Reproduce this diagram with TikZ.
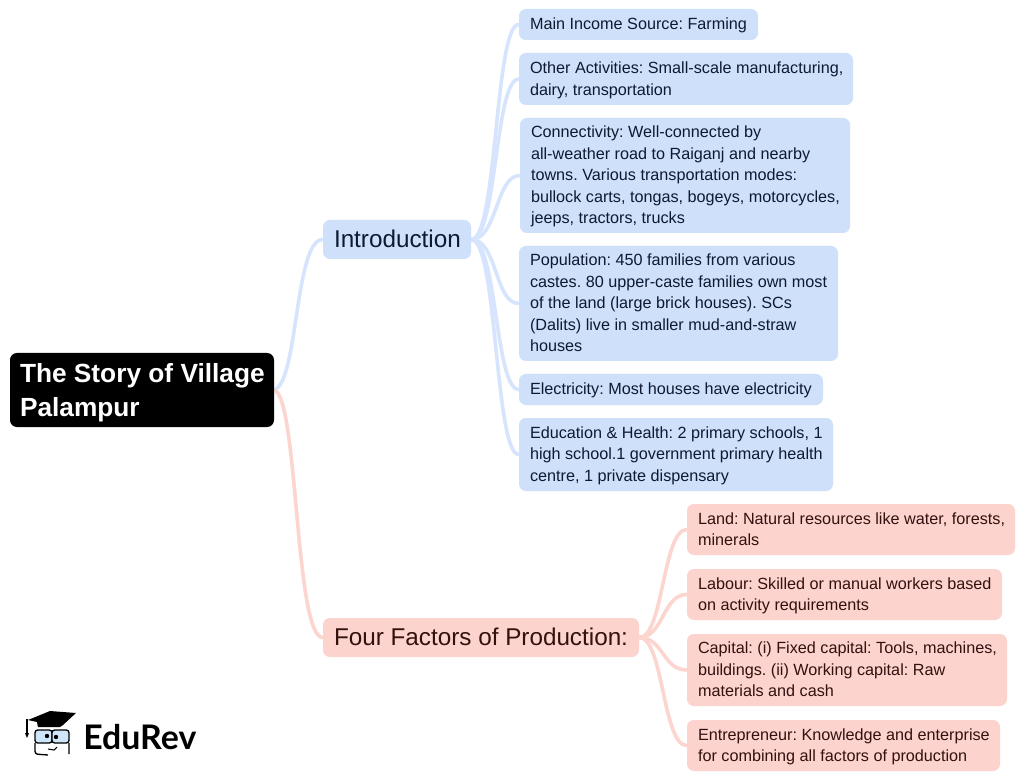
\documentclass[tikz,border=0pt]{standalone}
\usepackage{fontspec}
\usetikzlibrary{backgrounds}
\setmainfont{Liberation Sans}
\newfontfamily\logofont{Lato}
\definecolor{bluefill}{HTML}{CFE0FB}
\definecolor{redfill}{HTML}{FCD3CD}
\definecolor{blueline}{HTML}{D6E5FD}
\definecolor{redline}{HTML}{FDD5CF}
\definecolor{bluetext}{HTML}{0E1A30}
\definecolor{redtext}{HTML}{33110E}
\definecolor{eyeblue}{HTML}{CFE6FA}
\tikzset{
  x=0.75pt,y=-0.75pt,
  boxbase/.style={rounded corners=5.2pt,inner ysep=0pt,inner xsep=8.25pt,anchor=center},
  leafblue/.style={boxbase,fill=bluefill,text=bluetext,font=\fontsize{12.15pt}{16.1pt}\selectfont\def\mmdrop{1.5pt}},
  leafred/.style={boxbase,fill=redfill,text=redtext,font=\fontsize{12.15pt}{16.1pt}\selectfont\def\mmdrop{1.5pt}},
  midblue/.style={boxbase,fill=bluefill,text=bluetext,font=\fontsize{18.2pt}{22pt}\selectfont\def\mmdrop{3pt}},
  midred/.style={boxbase,fill=redfill,text=redtext,font=\fontsize{18.2pt}{22pt}\selectfont\def\mmdrop{3pt}},
  rootbox/.style={boxbase,fill=black,text=white,font=\fontsize{19.7pt}{25.5pt}\selectfont\bfseries\def\mmdrop{4.5pt}},
  blink/.style={draw=blueline,line width=2.7pt,line cap=round},
  rlink/.style={draw=redline,line width=2.7pt,line cap=round},
}
% name, x0, y0, x1, y1, style, text
\newcommand{\mmbox}[7]{%
  \pgfmathsetmacro{\mmw}{(#4-#2)*0.75-16.5}%
  \pgfmathsetmacro{\mmh}{(#5-#3)*0.75}%
  \node[#6,minimum width={(#4-#2)*0.75pt},minimum height=\mmh pt] (#1) at ({(#2+#4)/2},{(#3+#5)/2})
    {\vbox{\kern\mmdrop\hbox{\frenchspacing\makebox[\mmw pt][l]{\begin{tabular}{@{}l@{}}#7\end{tabular}}}}};}
\begin{document}
\begin{tikzpicture}
\useasboundingbox (0,0) rectangle (1024,780);

\mmbox{root}{10}{353}{274}{427}{rootbox}{\hspace{-0.75pt}The Story of Village\\\hspace{-0.75pt}Palampur}
\mmbox{intro}{323}{220}{471}{259}{midblue}{Introduction}
\mmbox{four}{323}{618}{639}{657}{midred}{Four Factors of Production:}
\mmbox{a}{519}{9}{758}{40}{leafblue}{Main Income Source: Farming}
\mmbox{b}{519}{53}{853}{105}{leafblue}{Other Activities: Small-scale manufacturing,\\dairy, transportation}
\mmbox{c}{520}{118}{850}{233}{leafblue}{Connectivity: Well-connected by\\all-weather road to Raiganj and nearby\\towns. Various transportation modes:\\bullock carts, tongas, bogeys, motorcycles,\\jeeps, tractors, trucks}
\mmbox{d}{519}{246}{838}{361}{leafblue}{Population: 450 families from various\\castes. 80 upper-caste families own most\\of the land (large brick houses). SCs\\(Dalits) live in smaller mud-and-straw\\houses}
\mmbox{e}{519}{374}{823}{405}{leafblue}{Electricity: Most houses have electricity}
\mmbox{f}{519}{418}{833}{491}{leafblue}{Education \& Health: 2 primary schools, 1\\high school.1 government primary health\\centre, 1 private dispensary}
\mmbox{p}{687}{504}{1015}{555}{leafred}{Land: Natural resources like water, forests,\\minerals}
\mmbox{q}{687}{569}{1002}{620}{leafred}{Labour: Skilled or manual workers based\\on activity requirements}
\mmbox{r}{687}{634}{1007}{706}{leafred}{Capital: (i) Fixed capital: Tools, machines,\\buildings. (ii) Working capital: Raw\\materials and cash}
\mmbox{s}{687}{720}{1000}{771}{leafred}{Entrepreneur: Knowledge and enterprise\\for combining all factors of production}

% connectors
\begin{pgfonlayer}{background}
\fill[white] (0,0) rectangle (1024,780);
\draw[blink] (root.east) .. controls +(24,-8) and +(-28,0) .. (intro.west);
\draw[rlink] (root.east) .. controls +(24,8) and +(-28,0) .. (four.west);
\foreach \t in {a,b,c,d,e,f}{
  \draw[blink] (intro.east) .. controls +(26,0) and +(-24,0) .. (\t.west);
}
\foreach \t in {p,q,r,s}{
  \draw[rlink] (four.east) .. controls +(24,0) and +(-24,0) .. (\t.west);
}
\end{pgfonlayer}

% logo: cap, head, glasses
\fill[black] (28,720) -- (50,711) -- (76,713) -- (63,725) -- (60,727) -- (38,727) -- (37,722) -- cycle;
\draw[black,line width=0.9pt] (27,719) -- (27,733);
\fill[black] (25,733) -- (29,733) -- (27,738) -- cycle;
\draw[black,line width=1pt,rounded corners=2pt] (35,743) -- (35,754) -- (48,755) (69,743) -- (69,754);
\draw[black,line width=1pt,fill=eyeblue,rounded corners=2pt] (35,730) rectangle (52,743);
\draw[black,line width=1pt,fill=eyeblue,rounded corners=2pt] (52,730) rectangle (69,743);
\fill[black] (47,736) circle (2.2);
\fill[black] (56,737) circle (2.2);
\draw[black,line width=0.8pt] (48,749) -- (54,750) -- (57,747);
\node[anchor=west,inner sep=0pt,text=black,font=\logofont\bfseries\fontsize{25.4pt}{30pt}\selectfont] (logo) at (83,737) {EduRev};
\end{tikzpicture}
\end{document}
